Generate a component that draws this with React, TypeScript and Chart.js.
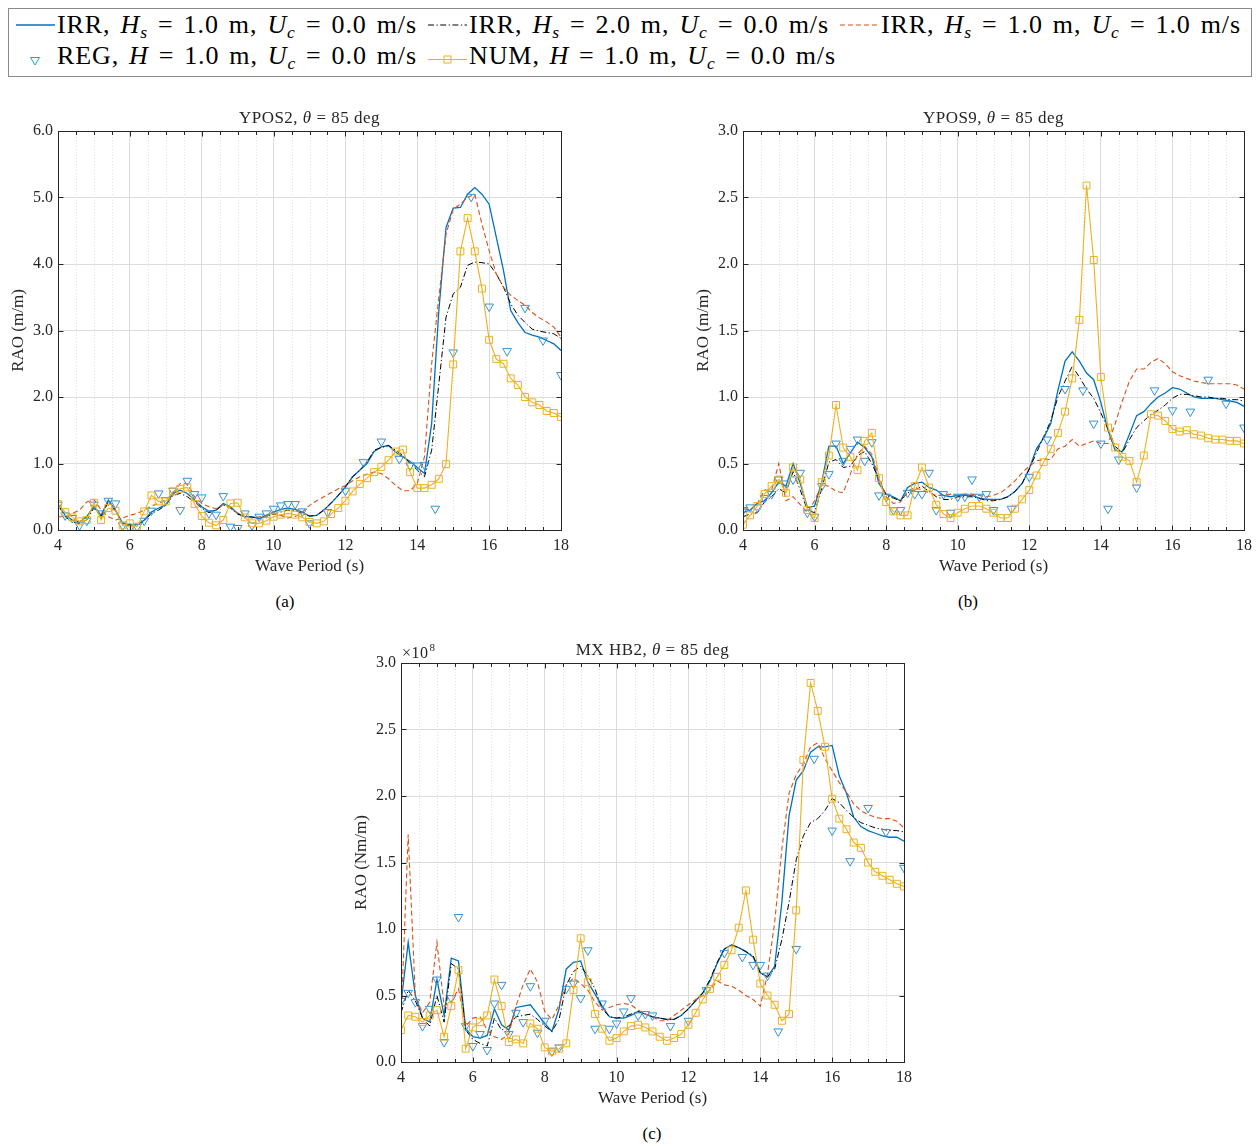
import React, { useEffect, useRef } from "react";
import { Chart, registerables } from "chart.js";

Chart.register(...registerables);

const FONT = "'Liberation Serif', 'Times New Roman', serif";
const COL_BLUE = "#0072BD";
const COL_BLACK = "#000000";
const COL_ORANGE = "#D95319";
const COL_REG = "#3593d6";
const COL_NUM = "#EDB120";
const COL_AXIS = "#262626";

// Wave periods (s) of the irregular-wave and numerical curves
const PERIODS = [
  4.0, 4.2, 4.4, 4.6, 4.8, 5.0, 5.2, 5.4, 5.6, 5.8,
  6.0, 6.2, 6.4, 6.6, 6.8, 7.0, 7.2, 7.4, 7.6, 7.8,
  8.0, 8.2, 8.4, 8.6, 8.8, 9.0, 9.2, 9.4, 9.6, 9.8,
  10.0, 10.2, 10.4, 10.6, 10.8, 11.0, 11.2, 11.4, 11.6, 11.8,
  12.0, 12.2, 12.4, 12.6, 12.8, 13.0, 13.2, 13.4, 13.6, 13.8,
  14.0, 14.2, 14.4, 14.6, 14.8, 15.0, 15.2, 15.4, 15.6, 15.8,
  16.0, 16.2, 16.4, 16.6, 16.8, 17.0, 17.2, 17.4, 17.6, 17.8,
  18.0,
];

// Wave periods (s) of the regular-wave tests
const REG_PERIODS = [
  4.0, 4.2, 4.4, 4.6, 4.8, 5.0, 5.2, 5.4, 5.6, 5.8,
  6.0, 6.2, 6.4, 6.6, 6.8, 7.0, 7.2, 7.4, 7.6, 7.8,
  8.0, 8.2, 8.4, 8.6, 8.8, 9.0, 9.2, 9.4, 9.6, 9.8,
  10.0, 10.2, 10.4, 10.6, 10.8, 11.0,
  11.5, 12.0, 12.5, 13.0, 13.5, 13.8, 14.0, 14.2, 14.5, 15.0,
  15.5, 16.0, 16.5, 17.0, 17.5, 18.0,
];

const X_TICKS = [4, 6, 8, 10, 12, 14, 16, 18];

// ---------- (a) YPOS2 ----------
const A_IRR_HS1 = [
  0.38, 0.22, 0.15, 0.12, 0.20, 0.36, 0.22, 0.45, 0.30, 0.10,
  0.08, 0.08, 0.15, 0.27, 0.33, 0.38, 0.55, 0.60, 0.55, 0.45,
  0.35, 0.28, 0.30, 0.40, 0.35, 0.25, 0.20, 0.20, 0.17, 0.22,
  0.27, 0.31, 0.33, 0.31, 0.27, 0.21, 0.22, 0.30, 0.40, 0.52,
  0.64, 0.80, 0.90, 1.00, 1.18, 1.25, 1.27, 1.17, 1.10, 1.03,
  0.94, 0.85, 1.60, 3.30, 4.55, 4.84, 4.85, 5.05, 5.15, 5.05,
  4.90, 4.40, 3.90, 3.30, 3.12, 2.97, 2.93, 2.90, 2.85, 2.80,
  2.70,
];
const A_IRR_HS2 = [
  0.38, 0.20, 0.12, 0.10, 0.15, 0.33, 0.20, 0.42, 0.28, 0.08,
  0.07, 0.07, 0.13, 0.25, 0.30, 0.37, 0.52, 0.55, 0.50, 0.42,
  0.33, 0.26, 0.30, 0.38, 0.33, 0.24, 0.20, 0.19, 0.18, 0.20,
  0.24, 0.27, 0.30, 0.29, 0.25, 0.21, 0.22, 0.30, 0.41, 0.52,
  0.66, 0.80, 0.90, 1.02, 1.20, 1.24, 1.27, 1.20, 1.12, 1.00,
  0.90, 0.80, 1.20, 2.20, 3.20, 3.55, 3.65, 3.98, 4.03, 4.02,
  4.00, 3.85, 3.65, 3.40, 3.23, 3.12, 3.02, 2.99, 2.97, 2.95,
  2.88,
];
const A_IRR_UC1 = [
  0.20, 0.20, 0.25, 0.30, 0.42, 0.46, 0.30, 0.20, 0.15, 0.18,
  0.22, 0.25, 0.30, 0.36, 0.40, 0.45, 0.55, 0.70, 0.70, 0.50,
  0.40, 0.35, 0.32, 0.38, 0.33, 0.25, 0.20, 0.18, 0.20, 0.22,
  0.24, 0.22, 0.18, 0.20, 0.27, 0.37, 0.44, 0.50, 0.56, 0.62,
  0.67, 0.74, 0.80, 0.84, 0.87, 0.85, 0.77, 0.67, 0.59, 0.59,
  0.70, 1.10, 2.50, 3.50, 4.45, 4.82, 4.90, 5.00, 5.05, 4.60,
  4.20, 3.85, 3.65, 3.53, 3.45, 3.38, 3.27, 3.19, 3.13, 3.05,
  2.90,
];
const A_REG = [
  0.38, 0.22, 0.18, 0.07, 0.14, 0.38, 0.25, 0.44, 0.40, 0.07,
  0.03, 0.05, 0.14, 0.29, 0.55, 0.45, 0.59, 0.30, 0.74, 0.54,
  0.49, 0.25, 0.23, 0.51, 0.05, 0.03, 0.25, 0.07, 0.20, 0.25,
  0.32, 0.37, 0.39, 0.39, 0.28, 0.10,
  0.27, 0.59, 1.02, 1.33, 1.07, 0.97, 0.97, 0.98, 0.32, 2.67,
  5.01, 3.36, 2.69, 3.34, 2.85, 2.33,
];
const A_NUM = [
  0.39, 0.27, 0.19, 0.13, 0.15, 0.41, 0.15, 0.33, 0.29, 0.07,
  0.10, 0.05, 0.28, 0.52, 0.43, 0.43, 0.58, 0.62, 0.64, 0.39,
  0.21, 0.11, 0.07, 0.15, 0.40, 0.41, 0.19, 0.10, 0.10, 0.14,
  0.20, 0.23, 0.25, 0.23, 0.19, 0.12, 0.10, 0.13, 0.24, 0.33,
  0.44, 0.58, 0.69, 0.78, 0.87, 0.95, 1.05, 1.18, 1.21, 0.87,
  0.63, 0.63, 0.68, 0.77, 0.99, 2.49, 4.19, 4.69, 4.19, 3.63,
  2.86, 2.57, 2.50, 2.28, 2.18, 2.00, 1.92, 1.88, 1.79, 1.76,
  1.70,
];

// ---------- (b) YPOS9 ----------
const B_IRR_HS1 = [
  0.13, 0.15, 0.20, 0.22, 0.28, 0.36, 0.33, 0.50, 0.35, 0.17,
  0.18, 0.36, 0.63, 0.63, 0.50, 0.58, 0.66, 0.62, 0.55, 0.35,
  0.27, 0.25, 0.22, 0.32, 0.35, 0.36, 0.32, 0.30, 0.26, 0.25,
  0.26, 0.26, 0.26, 0.24, 0.23, 0.23, 0.23, 0.25, 0.29, 0.35,
  0.46, 0.61, 0.69, 0.80, 1.05, 1.27, 1.34, 1.27, 1.18, 1.13,
  0.96, 0.75, 0.60, 0.59, 0.72, 0.86, 0.89, 0.95, 1.00, 1.03,
  1.07, 1.06, 1.03, 1.00, 0.99, 0.99, 0.99, 0.98, 0.97, 0.96,
  0.93,
];
const B_IRR_HS2 = [
  0.10, 0.12, 0.13, 0.21, 0.25, 0.31, 0.28, 0.44, 0.30, 0.15,
  0.13, 0.31, 0.51, 0.53, 0.47, 0.48, 0.56, 0.59, 0.50, 0.38,
  0.26, 0.24, 0.22, 0.28, 0.30, 0.33, 0.29, 0.25, 0.23, 0.23,
  0.25, 0.25, 0.25, 0.24, 0.22, 0.22, 0.23, 0.25, 0.29, 0.35,
  0.46, 0.58, 0.70, 0.82, 1.00, 1.12, 1.23, 1.15, 1.06, 0.99,
  0.88, 0.76, 0.63, 0.58, 0.68, 0.77, 0.82, 0.87, 0.90, 0.94,
  0.99, 1.02, 1.02, 1.01, 1.00, 1.00, 0.99, 0.99, 0.98, 0.98,
  0.97,
];
const B_IRR_UC1 = [
  0.16, 0.15, 0.20, 0.30, 0.30, 0.50, 0.22, 0.25, 0.19, 0.13,
  0.22, 0.34, 0.33, 0.29, 0.28, 0.42, 0.57, 0.63, 0.57, 0.40,
  0.25, 0.20, 0.21, 0.29, 0.32, 0.30, 0.28, 0.26, 0.26, 0.27,
  0.26, 0.27, 0.27, 0.26, 0.25, 0.26, 0.28, 0.32, 0.37, 0.43,
  0.48, 0.52, 0.53, 0.53, 0.61, 0.63, 0.68, 0.63, 0.65, 0.67,
  0.65, 0.65, 0.80, 0.97, 1.12, 1.21, 1.21, 1.26, 1.29, 1.25,
  1.19, 1.16, 1.14, 1.12, 1.11, 1.10, 1.10, 1.10, 1.10, 1.09,
  1.06,
];
const B_REG = [
  0.15, 0.17, 0.17, 0.24, 0.27, 0.38, 0.35, 0.38, 0.43, 0.13,
  0.10, 0.33, 0.42, 0.65, 0.52, 0.61, 0.68, 0.52, 0.66, 0.26,
  0.25, 0.15, 0.15, 0.28, 0.27, 0.27, 0.43, 0.15, 0.27, 0.13,
  0.25, 0.25, 0.38, 0.25, 0.27, 0.15,
  0.16, 0.40, 0.68, 1.06, 1.05, 0.80, 0.65, 0.16, 0.53, 0.32,
  1.05, 0.90, 0.89, 1.13, 0.95, 0.77,
];
const B_NUM = [
  0.04, 0.11, 0.18, 0.27, 0.33, 0.38, 0.28, 0.47, 0.38, 0.15,
  0.09, 0.36, 0.56, 0.94, 0.62, 0.55, 0.45, 0.67, 0.73, 0.39,
  0.21, 0.14, 0.11, 0.11, 0.33, 0.47, 0.32, 0.19, 0.12, 0.09,
  0.13, 0.16, 0.18, 0.18, 0.16, 0.13, 0.09, 0.09, 0.16, 0.23,
  0.30, 0.41, 0.51, 0.61, 0.73, 0.89, 1.14, 1.58, 2.59, 2.03,
  1.15, 0.77, 0.62, 0.55, 0.52, 0.36, 0.56, 0.87, 0.86, 0.82,
  0.76, 0.74, 0.75, 0.72, 0.71, 0.69, 0.68, 0.68, 0.67, 0.67,
  0.65,
];

// ---------- (c) MX HB2, values in units of 1e8 Nm/m ----------
const C_UNIT = 1e8;
const C_IRR_HS1 = [
  0.44, 0.90, 0.50, 0.33, 0.30, 0.62, 0.35, 0.78, 0.76, 0.25,
  0.19, 0.18, 0.20, 0.40, 0.28, 0.24, 0.41, 0.42, 0.43, 0.36,
  0.29, 0.23, 0.40, 0.70, 0.75, 0.76, 0.60, 0.51, 0.42, 0.34,
  0.33, 0.33, 0.35, 0.38, 0.36, 0.34, 0.33, 0.32, 0.32, 0.35,
  0.40, 0.46, 0.52, 0.61, 0.74, 0.85, 0.88, 0.86, 0.83, 0.79,
  0.67, 0.64, 0.72, 1.20, 1.85, 2.12, 2.19, 2.33, 2.37, 2.37,
  2.38, 2.15, 2.02, 1.84, 1.77, 1.74, 1.72, 1.70, 1.69, 1.69,
  1.66,
];
const C_IRR_HS2 = [
  0.37, 0.54, 0.46, 0.33, 0.27, 0.50, 0.30, 0.74, 0.70, 0.24,
  0.17, 0.14, 0.12, 0.33, 0.24, 0.27, 0.34, 0.35, 0.36, 0.32,
  0.27, 0.23, 0.32, 0.58, 0.68, 0.72, 0.65, 0.55, 0.40, 0.34,
  0.33, 0.34, 0.36, 0.38, 0.36, 0.34, 0.33, 0.32, 0.32, 0.35,
  0.40, 0.46, 0.52, 0.62, 0.75, 0.85, 0.88, 0.86, 0.83, 0.80,
  0.67, 0.64, 0.70, 0.92, 1.20, 1.52, 1.70, 1.80, 1.83, 1.89,
  1.98, 1.95, 1.89, 1.84, 1.80, 1.78, 1.76, 1.75, 1.74, 1.74,
  1.73,
];
const C_IRR_UC1 = [
  0.30, 1.71, 0.49, 0.37, 0.45, 0.90, 0.42, 0.45, 0.55, 0.27,
  0.33, 0.34, 0.24, 0.19, 0.17, 0.21, 0.42, 0.58, 0.70, 0.60,
  0.38, 0.32, 0.43, 0.58, 0.63, 0.59, 0.54, 0.45, 0.39, 0.41,
  0.43, 0.44, 0.43, 0.39, 0.36, 0.34, 0.31, 0.31, 0.35, 0.39,
  0.43, 0.47, 0.50, 0.54, 0.61, 0.58, 0.57, 0.54, 0.50, 0.47,
  0.42, 0.66, 1.05, 1.60, 2.02, 2.16, 2.24, 2.37, 2.40, 2.28,
  2.19, 2.10, 2.03, 1.94, 1.89, 1.86, 1.84, 1.83, 1.83, 1.81,
  1.76,
];
const C_REG_VALS = [
  0.46, 0.52, 0.45, 0.27, 0.40, 0.62, 0.15, 0.48, 1.09, 0.27,
  0.12, 0.21, 0.09, 0.44, 0.58, 0.21, 0.37, 0.30, 0.57, 0.22,
  0.31, 0.08, 0.11, 0.55, 0.59, 0.48, 0.84, 0.25, 0.44, 0.25,
  0.29, 0.38, 0.48, 0.35, 0.36, 0.35,
  0.27, 0.31, 0.54, 0.82, 0.79, 0.73, 0.73, 0.65, 0.23, 0.85,
  2.28, 1.74, 1.51, 1.91, 1.73, 1.46,
];
const C_NUM_VALS = [
  0.24, 0.35, 0.34, 0.30, 0.35, 0.39, 0.19, 0.42, 0.69, 0.10,
  0.26, 0.30, 0.35, 0.62, 0.42, 0.15, 0.17, 0.14, 0.29, 0.25,
  0.11, 0.08, 0.10, 0.14, 0.54, 0.93, 0.60, 0.36, 0.25, 0.16,
  0.18, 0.23, 0.27, 0.28, 0.26, 0.23, 0.19, 0.16, 0.18, 0.21,
  0.28, 0.37, 0.47, 0.55, 0.64, 0.73, 0.84, 1.01, 1.29, 0.92,
  0.59, 0.50, 0.43, 0.31, 0.36, 1.14, 2.27, 2.85, 2.64, 2.37,
  1.98, 1.83, 1.75, 1.65, 1.61, 1.50, 1.43, 1.40, 1.37, 1.34,
  1.32,
];

type Seg = { t: string; i?: boolean };

type PanelSpec = {
  left: number;
  top: number;
  w: number;
  h: number;
  padRight: number;
  irr1: number[];
  irr2: number[];
  irrU: number[];
  reg: number[];
  num: number[];
  unit: number;
  yMax: number;
  yStep: number;
  yTitle: string;
  title: Seg[];
  exponent?: string;
};

const PANELS: PanelSpec[] = [
  {
    left: 0, top: 95, w: 620, h: 495, padRight: 59,
    irr1: A_IRR_HS1, irr2: A_IRR_HS2, irrU: A_IRR_UC1, reg: A_REG, num: A_NUM,
    unit: 1, yMax: 6, yStep: 1, yTitle: "RAO (m/m)",
    title: [{ t: "YPOS2, " }, { t: "θ", i: true }, { t: " = 85 deg" }],
  },
  {
    left: 685, top: 95, w: 573, h: 495, padRight: 13,
    irr1: B_IRR_HS1, irr2: B_IRR_HS2, irrU: B_IRR_UC1, reg: B_REG, num: B_NUM,
    unit: 1, yMax: 3, yStep: 0.5, yTitle: "RAO (m/m)",
    title: [{ t: "YPOS9, " }, { t: "θ", i: true }, { t: " = 85 deg" }],
  },
  {
    left: 343, top: 627, w: 620, h: 495, padRight: 59,
    irr1: C_IRR_HS1, irr2: C_IRR_HS2, irrU: C_IRR_UC1, reg: C_REG_VALS, num: C_NUM_VALS,
    unit: C_UNIT, yMax: 3, yStep: 0.5, yTitle: "RAO (Nm/m)",
    title: [{ t: "MX HB2, " }, { t: "θ", i: true }, { t: " = 85 deg" }],
    exponent: "8",
  },
];

const CAPTIONS = [
  { text: "(a)", x: 285, y: 602 },
  { text: "(b)", x: 968, y: 602 },
  { text: "(c)", x: 652, y: 1134 },
];

function pts(xs: number[], ys: number[], unit: number) {
  return xs.map((x, i) => ({ x, y: ys[i] * unit }));
}

function framePlugin(spec: PanelSpec) {
  return {
    id: "matlabFrame",
    beforeDatasetsDraw(chart: any) {
      const { ctx, chartArea, scales } = chart;
      const { top, bottom } = chartArea;
      const x = scales.x;
      ctx.save();
      ctx.strokeStyle = "#e2e2e2";
      ctx.lineWidth = 1;
      ctx.setLineDash([1, 2]);
      for (let k = 1; k < 28; k++) {
        if (k % 4 === 0) continue;
        const v = 4 + k * 0.5;
        const px = Math.round(x.getPixelForValue(v)) + 0.5;
        ctx.beginPath();
        ctx.moveTo(px, top);
        ctx.lineTo(px, bottom);
        ctx.stroke();
      }
      ctx.restore();
    },
    afterDatasetsDraw(chart: any) {
      const { ctx, chartArea, scales } = chart;
      const { left, right, top, bottom } = chartArea;
      const x = scales.x;
      const y = scales.y;
      const L = Math.round(left) + 0.5;
      const R = Math.round(right) + 0.5;
      const T = Math.round(top) + 0.5;
      const B = Math.round(bottom) + 0.5;
      ctx.save();
      ctx.strokeStyle = COL_AXIS;
      ctx.lineWidth = 1;
      ctx.setLineDash([]);
      ctx.strokeRect(L, T, R - L, B - T);
      ctx.beginPath();
      for (let k = 0; k <= 28; k++) {
        const v = 4 + k * 0.5;
        const len = k % 4 === 0 ? 5 : 3.5;
        const px = Math.round(x.getPixelForValue(v)) + 0.5;
        ctx.moveTo(px, B);
        ctx.lineTo(px, B - len);
        ctx.moveTo(px, T);
        ctx.lineTo(px, T + len);
      }
      for (const tk of y.ticks) {
        const py = Math.round(y.getPixelForValue(tk.value)) + 0.5;
        ctx.moveTo(L, py);
        ctx.lineTo(L + 5, py);
        ctx.moveTo(R, py);
        ctx.lineTo(R - 5, py);
      }
      ctx.stroke();

      // panel title (rich text, italic theta)
      const cx = (left + right) / 2;
      const fontN = `17px ${FONT}`;
      const fontI = `italic 17px ${FONT}`;
      try {
        ctx.letterSpacing = "0.5px";
      } catch (e) {
        /* ignore */
      }
      let total = 0;
      for (const s of spec.title) {
        ctx.font = s.i ? fontI : fontN;
        total += ctx.measureText(s.t).width;
      }
      let xx = cx - total / 2;
      ctx.fillStyle = COL_AXIS;
      ctx.textBaseline = "alphabetic";
      ctx.textAlign = "left";
      for (const s of spec.title) {
        ctx.font = s.i ? fontI : fontN;
        ctx.fillText(s.t, xx, top - 8);
        xx += ctx.measureText(s.t).width;
      }

      if (spec.exponent) {
        ctx.font = `16px ${FONT}`;
        const base = "×10";
        ctx.fillText(base, left + 1, top - 5);
        const wb = ctx.measureText(base).width;
        ctx.font = `11px ${FONT}`;
        ctx.fillText(spec.exponent, left + 1 + wb + 1, top - 12);
      }
      ctx.restore();
    },
  };
}

function buildConfig(spec: PanelSpec): any {
  const tickFont = { family: FONT, size: 16 };
  const titleFont = { family: FONT, size: 17 };
  return {
    type: "line",
    data: {
      datasets: [
        {
          label: "IRR Hs=1.0 Uc=0.0",
          data: pts(PERIODS, spec.irr1, spec.unit),
          borderColor: COL_BLUE,
          borderWidth: 1.3,
          pointRadius: 0,
          fill: false,
          order: 4,
        },
        {
          label: "IRR Hs=2.0 Uc=0.0",
          data: pts(PERIODS, spec.irr2, spec.unit),
          borderColor: COL_BLACK,
          borderWidth: 1,
          borderDash: [6, 2.5, 1.2, 2.5],
          pointRadius: 0,
          fill: false,
          order: 3,
        },
        {
          label: "IRR Hs=1.0 Uc=1.0",
          data: pts(PERIODS, spec.irrU, spec.unit),
          borderColor: COL_ORANGE,
          borderWidth: 1.1,
          borderDash: [5, 3],
          pointRadius: 0,
          fill: false,
          order: 2,
        },
        {
          label: "REG",
          data: pts(REG_PERIODS, spec.reg, spec.unit),
          showLine: false,
          borderColor: COL_REG,
          backgroundColor: "rgba(0,0,0,0)",
          pointStyle: "triangle",
          pointRotation: 180,
          pointRadius: 5,
          pointBorderWidth: 1,
          pointBorderColor: COL_REG,
          pointBackgroundColor: "rgba(0,0,0,0)",
          order: 1,
        },
        {
          label: "NUM",
          data: pts(PERIODS, spec.num, spec.unit),
          borderColor: COL_NUM,
          borderWidth: 1.1,
          pointStyle: "rect",
          pointRadius: 4.9,
          pointBorderWidth: 1,
          pointBorderColor: COL_NUM,
          pointBackgroundColor: "rgba(0,0,0,0)",
          fill: false,
          order: 0,
        },
      ],
    },
    options: {
      responsive: false,
      animation: false,
      devicePixelRatio: 1,
      layout: { padding: { top: 36, right: spec.padRight, bottom: 10, left: 0 } },
      elements: { line: { tension: 0 } },
      plugins: {
        legend: { display: false },
        tooltip: { enabled: false },
        title: { display: false },
      },
      scales: {
        x: {
          type: "linear",
          min: 4,
          max: 18,
          afterFit: (s: any) => {
            s.height = 50;
          },
          afterBuildTicks: (s: any) => {
            s.ticks = X_TICKS.map((v) => ({ value: v }));
          },
          ticks: {
            autoSkip: false,
            maxRotation: 0,
            padding: 6,
            color: COL_AXIS,
            font: tickFont,
            callback: (v: number) => String(v),
          },
          grid: { color: "#dcdcdc", lineWidth: 1, drawTicks: false },
          border: { display: false },
          title: {
            display: true,
            text: "Wave Period (s)",
            color: COL_AXIS,
            font: titleFont,
            padding: { top: 0, bottom: 3 },
          },
        },
        y: {
          type: "linear",
          min: 0,
          max: spec.yMax * spec.unit,
          afterFit: (s: any) => {
            s.width = 58;
          },
          ticks: {
            stepSize: spec.yStep * spec.unit,
            padding: 5,
            color: COL_AXIS,
            font: tickFont,
            callback: (v: number) => (v / spec.unit).toFixed(1),
          },
          grid: { color: "#dcdcdc", lineWidth: 1, drawTicks: false },
          border: { display: false },
          title: {
            display: true,
            text: spec.yTitle,
            color: COL_AXIS,
            font: titleFont,
            padding: { top: 8, bottom: 0 },
          },
        },
      },
    },
    plugins: [framePlugin(spec)],
  };
}

function Panel({ spec }: { spec: PanelSpec }) {
  const ref = useRef<HTMLCanvasElement>(null);
  useEffect(() => {
    const chart = new Chart(ref.current as HTMLCanvasElement, buildConfig(spec));
    return () => chart.destroy();
  }, [spec]);
  return (
    <canvas
      ref={ref}
      width={spec.w}
      height={spec.h}
      style={{ position: "absolute", left: spec.left, top: spec.top, width: spec.w, height: spec.h }}
    />
  );
}

const subStyle: React.CSSProperties = { fontSize: "0.68em", verticalAlign: "-0.26em", lineHeight: 0 };

function Irr({ hs, uc }: { hs: string; uc: string }) {
  return (
    <>
      IRR, <i>H<sub style={subStyle}>s</sub></i> = {hs} m, <i>U<sub style={subStyle}>c</sub></i> = {uc} m/s
    </>
  );
}

function Reg({ name }: { name: string }) {
  return (
    <>
      {name}, <i>H</i> = 1.0 m, <i>U<sub style={subStyle}>c</sub></i> = 0.0 m/s
    </>
  );
}

// legend rows (text cap-centre y) and column geometry
const LEG_ROW1 = 25;
const LEG_ROW2 = 56;
const LEG_TEXT_X = [57, 469, 881];
const LEG_SAMPLE_X = [16, 428, 840];

function Legend() {
  const item = (x: number, y: number, w: number, content: React.ReactNode) => (
    <div
      style={{
        position: "absolute",
        left: x,
        top: y - 15,
        width: w,
        height: 30,
        lineHeight: "30px",
        fontSize: 26,
        letterSpacing: "0.9px",
        textAlign: "justify",
        textAlignLast: "justify",
        color: "#000",
      }}
    >
      {content}
    </div>
  );
  const sw = 39;
  return (
    <>
      <div
        style={{
          position: "absolute",
          left: 8,
          top: 8,
          width: 1244,
          height: 69,
          border: "1px solid #8a8a8a",
          boxSizing: "border-box",
        }}
      />
      <svg
        width={1258}
        height={90}
        style={{ position: "absolute", left: 0, top: 0, pointerEvents: "none" }}
      >
        <line x1={LEG_SAMPLE_X[0]} y1={LEG_ROW1} x2={LEG_SAMPLE_X[0] + sw} y2={LEG_ROW1} stroke={COL_BLUE} strokeWidth={1.4} />
        <line x1={LEG_SAMPLE_X[1]} y1={LEG_ROW1} x2={LEG_SAMPLE_X[1] + sw} y2={LEG_ROW1} stroke={COL_BLACK} strokeWidth={1} strokeDasharray="6 2.5 1.2 2.5" />
        <line x1={LEG_SAMPLE_X[2]} y1={LEG_ROW1} x2={LEG_SAMPLE_X[2] + sw} y2={LEG_ROW1} stroke={COL_ORANGE} strokeWidth={1.2} strokeDasharray="5 3" />
        <polygon
          points={`${LEG_SAMPLE_X[0] + 14.5},${LEG_ROW2 + 1.5} ${LEG_SAMPLE_X[0] + 23.5},${LEG_ROW2 + 1.5} ${LEG_SAMPLE_X[0] + 19},${LEG_ROW2 + 9}`}
          fill="none"
          stroke={COL_REG}
          strokeWidth={1}
        />
        <line x1={LEG_SAMPLE_X[1]} y1={LEG_ROW2 + 3.5} x2={LEG_SAMPLE_X[1] + sw} y2={LEG_ROW2 + 3.5} stroke={COL_NUM} strokeWidth={1.2} />
        <rect x={LEG_SAMPLE_X[1] + 16} y={LEG_ROW2} width={7} height={7} fill="none" stroke={COL_NUM} strokeWidth={1} />
      </svg>
      {item(LEG_TEXT_X[0], LEG_ROW1, 360, <Irr hs="1.0" uc="0.0" />)}
      {item(LEG_TEXT_X[1], LEG_ROW1, 360, <Irr hs="2.0" uc="0.0" />)}
      {item(LEG_TEXT_X[2], LEG_ROW1, 360, <Irr hs="1.0" uc="1.0" />)}
      {item(LEG_TEXT_X[0], LEG_ROW2, 360, <Reg name="REG" />)}
      {item(LEG_TEXT_X[1], LEG_ROW2, 367, <Reg name="NUM" />)}
    </>
  );
}

export default function App() {
  return (
    <div
      style={{
        position: "absolute",
        left: 0,
        top: 0,
        width: 1258,
        height: 1146,
        background: "#ffffff",
        fontFamily: FONT,
        overflow: "hidden",
      }}
    >
      <Legend />
      {PANELS.map((p, i) => (
        <Panel key={i} spec={p} />
      ))}
      {CAPTIONS.map((c) => (
        <div
          key={c.text}
          style={{
            position: "absolute",
            left: c.x - 40,
            top: c.y - 11,
            width: 80,
            height: 22,
            lineHeight: "22px",
            textAlign: "center",
            fontSize: 17,
            color: "#000",
          }}
        >
          {c.text}
        </div>
      ))}
    </div>
  );
}
